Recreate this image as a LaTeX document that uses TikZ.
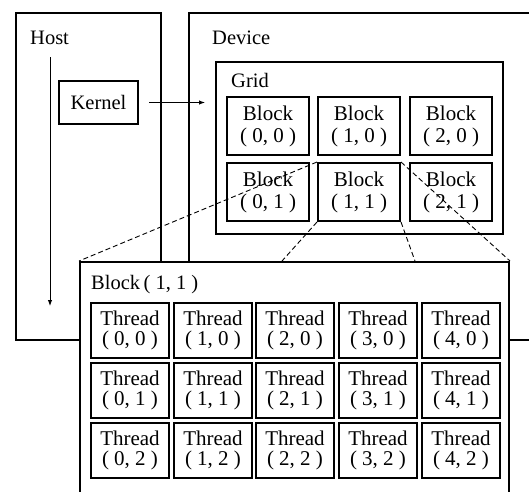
\documentclass[tikz,border=0pt]{standalone}
\usepackage{fontspec}
\setmainfont{Liberation Serif}
\usetikzlibrary{arrows.meta}
\begin{document}
\begin{tikzpicture}[x=1pt,y=-1pt,
  myfr/.style={draw,line width=2pt,fill=white,inner sep=0pt,anchor=north west},
  blk/.style={myfr,minimum width=82pt,minimum height=58pt,align=center,font=\fontsize{21}{22}\selectfont},
  thr/.style={myfr,minimum width=78pt,minimum height=55pt,align=center,font=\fontsize{21}{20}\selectfont},
  lbl/.style={anchor=base west,inner sep=0pt,font=\fontsize{20.5}{24}\selectfont},
  dline/.style={line width=0.9pt,dash pattern=on 5pt off 3pt},
  arr/.style={line width=1pt,-{Latex[length=6pt,width=4.5pt]}}
]
\useasboundingbox (0,0) rectangle (529,491);
\clip (0,0) rectangle (529,491);
% host and device
\node[myfr,minimum width=145pt,minimum height=327pt] (host) at (15,12) {};
\node[myfr,minimum width=360pt,minimum height=327pt] (device) at (188,12) {};
\node[lbl] (hostlbl) at (30,44) {Host};
\node[lbl] (devlbl) at (212,44) {Device};
% grid
\node[myfr,minimum width=287pt,minimum height=172pt] (grid) at (215,61) {};
\node[lbl] (gridlbl) at (231,87) {Grid};
\node[blk] (b00) at (226,96) {Block\\( 0, 0 )};
\node[blk] (b10) at (317,96) {Block\\( 1, 0 )};
\node[blk] (b20) at (409,96) {Block\\( 2, 0 )};
\node[blk] (b01) at (226,162) {Block\\( 0, 1 )};
\node[blk] (b11) at (317,162) {Block\\( 1, 1 )};
\node[blk] (b21) at (409,162) {Block\\( 2, 1 )};
% kernel
\node[myfr,minimum width=79pt,minimum height=43pt,font=\fontsize{20.5}{24}\selectfont] (kernel) at (58,80) {Kernel};
\draw[arr,shorten <=10pt,shorten >=10pt] (kernel.east) -- (kernel.east -| grid.west);
\coordinate (hs) at (50,57);
\coordinate (he) at (50,306);
\draw[arr] (hs) -- (he);
% dashed zoom lines
\coordinate (c1) at (282,261);
\coordinate (c2) at (415,261);
\node[myfr,draw=none,fill=none,minimum width=429pt,minimum height=260pt] (bigpos) at (79,261) {};
\draw[dline] (b11.north west) -- (bigpos.north west);
\draw[dline] (b11.north east) -- (bigpos.north east);
\draw[dline] (b11.south west) -- (c1);
\draw[dline] (b11.south east) -- (c2);
% big block
\node[myfr,minimum width=429pt,minimum height=260pt] (big) at (79,261) {};
\node[lbl] (biglbl) at (91,289) {Block\,( 1, 1 )};
\foreach \c/\x in {0/90,1/173,2/255,3/338,4/421}{
  \foreach \r/\y in {0/302,1/362,2/422}{
    \node[thr] (t\c\r) at (\x,\y) {Thread\\( \c, \r{} )};
  }
}
\end{tikzpicture}
\end{document}
